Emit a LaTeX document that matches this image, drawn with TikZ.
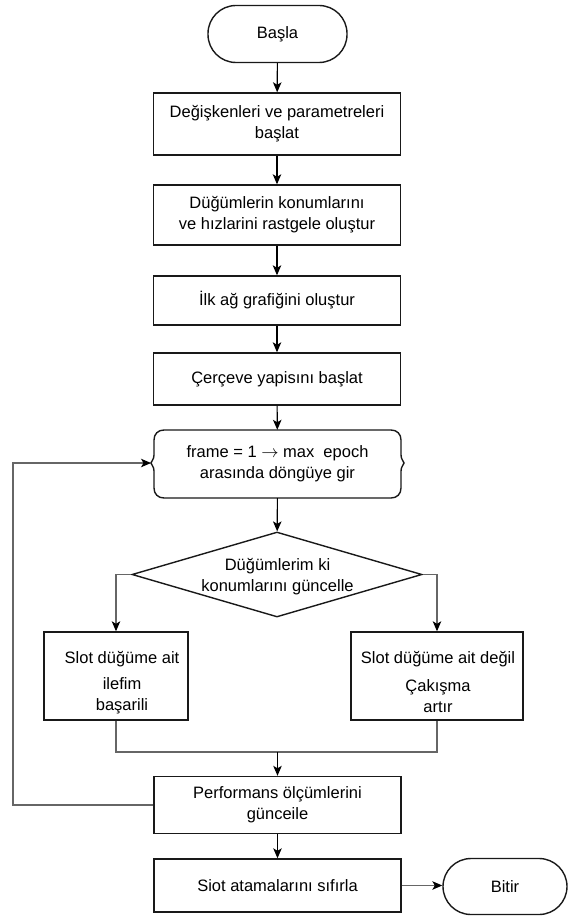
\documentclass[tikz,border=0pt]{standalone}
\usepackage{fontspec}
\setmainfont{Liberation Sans}
\usetikzlibrary{arrows.meta,shapes.geometric}
\begin{document}
\begin{tikzpicture}[x=1pt,y=-1pt,
  every node/.style={font=\fontsize{16.5}{21}\selectfont, align=center, inner sep=0pt},
  pbox/.style={draw=black!90, line width=1.4pt, rectangle, minimum width=247pt},
  term/.style={draw=black!90, line width=1.4pt, rectangle, rounded corners=28pt, minimum height=57pt},
  arr/.style={-{Stealth[length=10pt,width=8.5pt,inset=2.5pt]}, line width=1.1pt, draw=black},
  gline/.style={line width=1.1pt, draw=black!60},
  garr/.style={gline, -{Stealth[length=10pt,width=8.5pt,inset=2.5pt,color=black]}}
]
\useasboundingbox (0,0) rectangle (569,917);

\node[term, minimum width=139pt] (start) at (277.5,34) {Başla};
\node[pbox, minimum height=62pt] (b1) at (277,124) {Değişkenleri ve parametreleri\\başlat};
\node[pbox, minimum height=60pt] (b2) at (277,215) {Düğümlerin konumlarını\\ve hızlarini rastgele oluştur};
\node[pbox, minimum height=49pt] (b3) at (277,300.5) {İlk ağ grafiğini oluştur};
\node[pbox, minimum height=52pt] (b4) at (277,379) {Çerçeve yapisını başlat};
\node[rectangle, minimum width=247pt, minimum height=68pt] (loop) at (277.5,464) {frame = 1 $\rightarrow$ max\ \ epoch\\arasında döngüye gir};
\draw[line width=1.4pt, draw=black!90]
  (164,430) -- (391,430) .. controls (397,430) and (401,434) .. (401,440)
  -- (401,455) .. controls (401,460) and (404,461) .. (404,463)
  .. controls (404,465) and (401,466) .. (401,471)
  -- (401,488) .. controls (401,494) and (397,498) .. (391,498)
  -- (164,498) .. controls (158,498) and (154,494) .. (154,488)
  -- (154,471) .. controls (154,466) and (151,465) .. (151,463)
  .. controls (151,461) and (154,460) .. (154,455)
  -- (154,440) .. controls (154,434) and (158,430) .. (164,430) -- cycle;
\coordinate (lp) at (151,463);
\node[draw=black!90, line width=1.4pt, diamond, aspect=3.41, minimum width=290pt, minimum height=85pt] (dia) at (277,574.5) {};
\node (diat) at (277.5,577) {Düğümlerim ki\\konumlarını güncelle};
\node[pbox, minimum width=144pt, minimum height=88pt] (L) at (116,676) {};
\node (Lt1) at (122,659) {Slot düğüme ait};
\node (Lt2) at (122,696) {ilefim\\başarili};
\node[pbox, minimum width=172pt, minimum height=88pt] (R) at (437,676) {};
\node (Rt1) at (438,659) {Slot düğüme ait değil};
\node (Rt2) at (438,696) {Çakışma\\artır};
\node[pbox, minimum height=57pt] (perf) at (277.5,805) {Performans ölçümlerini\\günceile};
\node[pbox, minimum height=53pt] (siot) at (277.5,885.5) {Siot atamalarını sıfırla};
\node[term, minimum width=124pt, minimum height=56pt] (end) at (505,886.5) {Bitir};

\coordinate (j) at (277.5,752);
\coordinate (lc) at (13,464);

\draw[arr] (start) -- (b1);
\draw[arr] (b1) -- (b2);
\draw[arr] (b2) -- (b3);
\draw[arr] (b3) -- (b4);
\draw[arr] (b4) -- (loop);
\draw[arr] (loop) -- (dia);
\draw[garr] (dia.west) -| (L.north);
\draw[garr] (dia.east) -| (R.north);
\draw[gline] (L.south) |- (j) -| (R.south);
\draw[arr] (j) -- (perf.north);
\draw[arr] (perf) -- (siot);
\draw[garr] (siot.east) -- (siot.east -| end.west);
\draw[garr] (perf.west) -- (perf.west -| lc) |- (lp);
\end{tikzpicture}
\end{document}
